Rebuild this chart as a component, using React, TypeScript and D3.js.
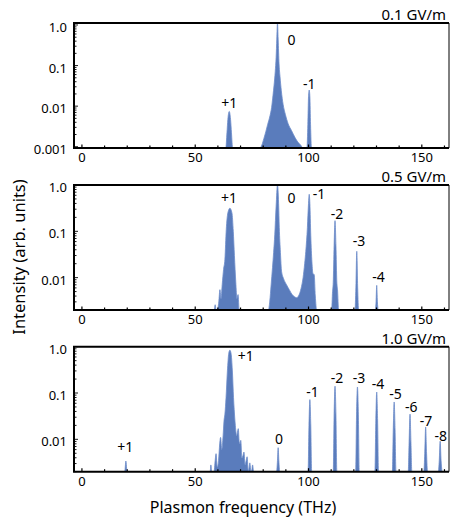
import * as d3 from "d3"
import { useEffect, useRef } from "react"

// spectra: [frequency (THz), intensity (arb. units)]
const spectrum01: [number, number][] = [
	[62.0, 0.0005], [63.5, 0.0006], [64.0, 0.0022], [64.4, 0.0047], [65.0, 0.0074], [65.6, 0.0047], [66.0, 0.0022], [66.5, 0.0006], [68.0, 0.0005],
	[78.6, 0.0005], [79.4, 0.0011], [80.3, 0.0016], [81.2, 0.0024], [82.0, 0.0036], [83.0, 0.0058], [83.7, 0.0092], [84.3, 0.018], [84.8, 0.033],
	[85.3, 0.07], [85.7, 0.16], [86.0, 0.45], [86.3, 1.2], [86.6, 0.45], [87.0, 0.11], [87.4, 0.055], [88.0, 0.024], [88.8, 0.011], [89.8, 0.0062],
	[91.0, 0.0037], [92.5, 0.0025], [94.0, 0.0017], [95.3, 0.0013], [96.5, 0.0011], [97.6, 0.0009], [98.4, 0.0005],
	[99.3, 0.0005], [99.7, 0.0035], [100.0, 0.017], [100.3, 0.025], [100.6, 0.017], [100.9, 0.0035], [101.3, 0.0005], [103.0, 0.0005],
]

const spectrum05: [number, number][] = [
	[57.8, 0.001], [58.4, 0.0018], [58.8, 0.0026], [59.2, 0.0018], [59.7, 0.0012], [60.4, 0.003], [60.9, 0.0055], [61.4, 0.0035], [61.9, 0.007],
	[62.5, 0.015], [63.1, 0.025], [63.7, 0.11], [64.4, 0.25], [65.3, 0.315], [66.2, 0.25], [66.8, 0.1], [67.3, 0.03], [67.9, 0.008], [68.4, 0.0035],
	[68.9, 0.0043], [69.4, 0.002], [70.0, 0.001],
	[82.3, 0.001], [82.9, 0.0031], [83.5, 0.007], [84.1, 0.0164], [84.6, 0.035], [85.1, 0.084], [85.7, 0.35], [86.3, 1.5], [86.8, 0.4], [87.1, 0.12],
	[87.6, 0.035], [88.1, 0.0137], [89.0, 0.0095], [90.3, 0.007], [91.5, 0.0055], [92.8, 0.0043], [94.0, 0.0038], [94.8, 0.0037], [95.8, 0.0042],
	[96.7, 0.0058], [97.6, 0.01], [98.3, 0.02], [98.8, 0.037], [99.5, 0.12], [100.0, 0.4], [100.3, 0.63], [100.6, 0.4], [101.0, 0.08], [101.5, 0.022],
	[102.0, 0.012], [102.5, 0.0117], [103.0, 0.004], [103.6, 0.001],
	[110.2, 0.001], [110.6, 0.005], [110.9, 0.0078], [111.3, 0.05], [111.7, 0.17], [112.1, 0.05], [112.5, 0.008], [112.8, 0.0055], [113.3, 0.001],
	[120.5, 0.001], [120.9, 0.006], [121.3, 0.037], [121.7, 0.006], [122.1, 0.001],
	[129.5, 0.001], [129.8, 0.003], [130.1, 0.0068], [130.4, 0.003], [130.7, 0.001],
]

const spectrum10: [number, number][] = [
	[18.5, 0.001], [18.9, 0.002], [19.4, 0.0034], [19.9, 0.002], [20.3, 0.001],
	[56.2, 0.001], [56.6, 0.002], [56.9, 0.0028], [57.3, 0.0015], [58.3, 0.0015], [58.8, 0.0035], [59.2, 0.0049], [59.7, 0.0025], [60.3, 0.0035],
	[60.8, 0.008], [61.2, 0.011], [61.7, 0.006], [62.3, 0.012], [62.7, 0.025], [63.1, 0.035], [63.6, 0.08], [64.2, 0.3], [64.8, 0.72], [65.3, 0.84],
	[65.8, 0.72], [66.4, 0.3], [66.9, 0.08], [67.2, 0.044], [67.7, 0.02], [68.3, 0.012], [68.7, 0.015], [69.0, 0.017], [69.4, 0.009], [69.8, 0.008],
	[70.1, 0.0095], [70.6, 0.004], [71.1, 0.0045], [71.5, 0.0053], [72.0, 0.0028], [72.5, 0.0035], [72.9, 0.0042], [73.4, 0.002], [73.8, 0.0025],
	[74.1, 0.0031], [74.6, 0.0018], [75.0, 0.0022], [75.3, 0.0028], [75.8, 0.0012], [76.3, 0.001],
	[85.9, 0.001], [86.3, 0.0035], [86.6, 0.0066], [86.9, 0.0035], [87.3, 0.001],
	[99.8, 0.001], [100.2, 0.02], [100.6, 0.072], [101.0, 0.02], [101.4, 0.001],
	[110.9, 0.001], [111.3, 0.035], [111.7, 0.14], [112.1, 0.035], [112.5, 0.001],
	[120.8, 0.001], [121.2, 0.035], [121.6, 0.135], [122.0, 0.035], [122.4, 0.001],
	[129.3, 0.001], [129.7, 0.025], [130.1, 0.105], [130.5, 0.025], [130.9, 0.001],
	[137.0, 0.001], [137.4, 0.016], [137.8, 0.064], [138.2, 0.016], [138.6, 0.001],
	[144.0, 0.001], [144.4, 0.009], [144.8, 0.035], [145.2, 0.009], [145.6, 0.001],
	[150.9, 0.001], [151.3, 0.005], [151.7, 0.0185], [152.1, 0.005], [152.5, 0.001],
	[157.3, 0.001], [157.7, 0.0035], [158.1, 0.0091], [158.5, 0.0035], [158.9, 0.001],
]

// sideband order labels: text, anchor frequency (THz), anchor intensity
const orders01 = [
	{ text: "+1", freq: 65.0, value: 0.012 },
	{ text: "0", freq: 92.5, value: 0.43 },
	{ text: "-1", freq: 100.3, value: 0.037 },
]
const orders05 = [
	{ text: "+1", freq: 64.9, value: 0.53 },
	{ text: "0", freq: 92.5, value: 0.53 },
	{ text: "-1", freq: 104.6, value: 0.66 },
	{ text: "-2", freq: 112.6, value: 0.246 },
	{ text: "-3", freq: 122.3, value: 0.0625 },
	{ text: "-4", freq: 130.9, value: 0.0104 },
]
const orders10 = [
	{ text: "+1", freq: 19.1, value: 0.0071 },
	{ text: "+1", freq: 72.3, value: 0.655 },
	{ text: "0", freq: 87.0, value: 0.0104 },
	{ text: "-1", freq: 101.8, value: 0.109 },
	{ text: "-2", freq: 112.6, value: 0.216 },
	{ text: "-3", freq: 122.3, value: 0.216 },
	{ text: "-4", freq: 130.7, value: 0.16 },
	{ text: "-5", freq: 138.4, value: 0.1 },
	{ text: "-6", freq: 145.3, value: 0.052 },
	{ text: "-7", freq: 151.9, value: 0.026 },
	{ text: "-8", freq: 158.4, value: 0.0122 },
]

const fieldNames = ["0.1 GV/m", "0.5 GV/m", "1.0 GV/m"]
const freqDomain = [-3.5, 162]
const freqTicks = [0, 10, 20, 30, 40, 50, 60, 70, 80, 90, 100, 110, 120, 130, 140, 150, 160]
const freqLabels = [0, 50, 100, 150]
const intensityDomain01 = [0.00093, 1.12]
const intensityDomain = [0.002, 1.0]
const intensityLabels01 = [1, 0.1, 0.01, 0.001]
const intensityLabels = [1, 0.1, 0.01]

const font = "'Noto Sans', 'Open Sans', sans-serif"
const blue = "#5a7cbc"

export default function App() {

	const svgRef = useRef<SVGSVGElement>(null)

	useEffect(() => {
		document.body.style.margin = "0"
		const svg = d3.select(svgRef.current)
		svg.selectAll("*").remove()

		const left = 74, right = 449, panelHeight = 125
		const tops = [23, 185, 346.7]
		const panels = [
			{ data: spectrum01, orders: orders01, domain: intensityDomain01, labels: intensityLabels01 },
			{ data: spectrum05, orders: orders05, domain: intensityDomain, labels: intensityLabels },
			{ data: spectrum10, orders: orders10, domain: intensityDomain, labels: intensityLabels },
		]

		const x = d3.scaleLinear().domain(freqDomain).range([left, right])

		panels.forEach((p, i) => {
			const g = svg.append("g").attr("transform", `translate(0, ${tops[i]})`)
			const y = d3.scaleLog().domain(p.domain).range([panelHeight, 0]).clamp(true)

			// clip
			g.append("clipPath").attr("id", `clip${i}`)
				.append("rect").attr("x", left).attr("y", 0).attr("width", right - left).attr("height", panelHeight)

			const area = d3.area<[number, number]>()
				.x(d => x(d[0]))
				.y0(panelHeight)
				.y1(d => y(d[1]))
				.curve(d3.curveMonotoneX)

			g.append("path")
				.datum(p.data)
				.attr("clip-path", `url(#clip${i})`)
				.attr("d", area)
				.attr("fill", blue)
				.attr("stroke", "#6d8dca")
				.attr("stroke-width", 0.8)

			// x ticks (inside, pointing up)
			g.append("g").selectAll("line")
				.data(freqTicks)
				.enter()
				.append("line")
				.attr("x1", d => x(d)).attr("x2", d => x(d))
				.attr("y1", panelHeight)
				.attr("y2", d => panelHeight - (freqLabels.includes(d) ? 3.5 : 2.5))
				.attr("stroke", "black")
				.attr("stroke-width", 1.2)

			g.append("g").selectAll("text")
				.data(freqLabels)
				.enter()
				.append("text")
				.attr("x", d => x(d))
				.attr("y", panelHeight + 14)
				.attr("text-anchor", "middle")
				.attr("font-size", 13)
				.attr("font-family", font)
				.text(d => d)

			// y ticks (log, inside)
			g.append("g").selectAll("line")
				.data(y.ticks())
				.enter()
				.append("line")
				.attr("x1", left).attr("x2", d => left + (Math.abs(Math.log10(d) - Math.round(Math.log10(d))) < 1e-6 ? 4 : 2.5))
				.attr("y1", d => y(d)).attr("y2", d => y(d))
				.attr("stroke", "black")
				.attr("stroke-width", 0.9)

			g.append("g").selectAll("text")
				.data(p.labels)
				.enter()
				.append("text")
				.attr("x", 67)
				.attr("y", d => y(d) + 2)
				.attr("text-anchor", "end")
				.attr("dominant-baseline", "central")
				.attr("font-size", 13)
				.attr("font-family", font)
				.text(d => d === 1 ? "1.0" : String(d))

			// frame
			g.append("path")
				.attr("d", `M${left},${panelHeight} V0 H${right}`)
				.attr("fill", "none").attr("stroke", "black").attr("stroke-width", 2)
			g.append("line")
				.attr("x1", left - 1).attr("x2", right)
				.attr("y1", panelHeight).attr("y2", panelHeight)
				.attr("stroke", "black").attr("stroke-width", 2)
			g.append("line")
				.attr("x1", right).attr("x2", right)
				.attr("y1", 0).attr("y2", panelHeight)
				.attr("stroke", "black").attr("stroke-width", 1)

			// order labels
			g.append("g").selectAll("text")
				.data(p.orders)
				.enter()
				.append("text")
				.attr("x", d => x(d.freq))
				.attr("y", d => y(d.value))
				.attr("text-anchor", "middle")
				.attr("dominant-baseline", "central")
				.attr("font-size", 14)
				.attr("font-family", font)
				.text(d => d.text)

			// field strength
			g.append("text")
				.attr("x", 446)
				.attr("y", -3)
				.attr("text-anchor", "end")
				.attr("font-size", 15)
				.attr("font-family", font)
				.text(fieldNames[i])
		})

		// axis titles
		svg.append("text")
			.attr("x", 243)
			.attr("y", 513)
			.attr("text-anchor", "middle")
			.attr("font-size", 16)
			.attr("font-family", font)
			.text("Plasmon frequency (THz)")

		svg.append("text")
			.attr("transform", "translate(18, 257) rotate(-90)")
			.attr("text-anchor", "middle")
			.attr("dominant-baseline", "central")
			.attr("font-size", 16.5)
			.attr("font-family", font)
			.text("Intensity (arb. units)")
	}, [])

	return <svg ref={svgRef} width={452} height={521} style={{ display: "block", background: "white" }} />
}
